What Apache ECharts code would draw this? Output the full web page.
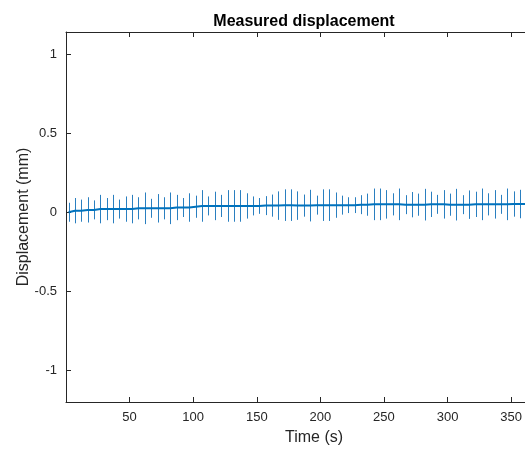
<!DOCTYPE html>
<html>
<head>
<meta charset="utf-8">
<script src="https://cdn.jsdelivr.net/npm/echarts@6/dist/echarts.min.js"></script>
<style>
  html, body { margin: 0; padding: 0; background: #fff; }
  #main { width: 525px; height: 450px; }
</style>
</head>
<body>
<div id="main"></div>
<script>
// sample times (s)
var times = [2, 7, 12, 17, 22, 27, 32, 37, 42, 47, 52, 57, 62, 67, 72, 77, 82, 87, 92, 97,
  102, 107, 112, 117, 122, 127, 132, 137, 142, 147, 152, 157, 162, 167, 172, 177, 182, 187, 192, 197,
  202, 207, 212, 217, 222, 227, 232, 237, 242, 247, 252, 257, 262, 267, 272, 277, 282, 287, 292, 297,
  302, 307, 312, 317, 322, 327, 332, 337, 342, 347, 352, 357, 362, 367, 372, 377, 382, 387];

// mean displacement (mm)
var meanDisp = [0.00, 0.01, 0.01, 0.015, 0.015, 0.02, 0.02, 0.02, 0.02, 0.02, 0.02, 0.025, 0.025, 0.025, 0.025, 0.025, 0.025, 0.03, 0.03, 0.03,
  0.035, 0.04, 0.04, 0.04, 0.04, 0.04, 0.04, 0.04, 0.04, 0.04, 0.04, 0.042, 0.042, 0.042, 0.045, 0.045, 0.042, 0.042, 0.042, 0.045,
  0.045, 0.045, 0.045, 0.045, 0.045, 0.045, 0.048, 0.048, 0.05, 0.05, 0.05, 0.05, 0.05, 0.048, 0.048, 0.048, 0.048, 0.05, 0.05, 0.05,
  0.048, 0.048, 0.048, 0.048, 0.05, 0.05, 0.05, 0.05, 0.05, 0.05, 0.052, 0.052, 0.052, 0.052, 0.052, 0.052, 0.052, 0.052];

// half length of error bars (mm)
var errHalf = [0.06, 0.08, 0.07, 0.08, 0.06, 0.09, 0.07, 0.09, 0.06, 0.08, 0.09, 0.07, 0.1, 0.06, 0.09, 0.07, 0.1, 0.08, 0.06, 0.09,
  0.07, 0.1, 0.06, 0.09, 0.07, 0.1, 0.1, 0.1, 0.08, 0.06, 0.05, 0.06, 0.07, 0.09, 0.1, 0.1, 0.09, 0.07, 0.1, 0.06,
  0.1, 0.1, 0.08, 0.06, 0.05, 0.05, 0.06, 0.07, 0.1, 0.1, 0.09, 0.07, 0.1, 0.06, 0.08, 0.07, 0.1, 0.08, 0.06, 0.09,
  0.07, 0.1, 0.06, 0.09, 0.08, 0.1, 0.07, 0.09, 0.06, 0.1, 0.08, 0.09, 0.07, 0.1, 0.06, 0.09, 0.08, 0.07];

var yTicks = [-1, -0.5, 0, 0.5, 1];

var lineData = times.map(function (t, i) { return [t, meanDisp[i]]; });
var barData = times.map(function (t, i) { return [t, meanDisp[i] - errHalf[i], meanDisp[i] + errHalf[i]]; });

var chart = echarts.init(document.getElementById('main'));
var axisColor = '#262626';
var font = 'Liberation Sans, Arial, Helvetica, sans-serif';

var option = {
  animation: false,
  title: {
    text: 'Measured displacement',
    left: 299, top: 9, textAlign: 'center',
    textStyle: { fontFamily: font, fontSize: 16, fontWeight: 'bold', color: '#000' }
  },
  grid: { left: 66, top: 32, right: -37, bottom: 48, containLabel: false, outerBoundsMode: 'none' },
  xAxis: [{
    type: 'value', min: 0, max: 390, interval: 50,
    name: 'Time (s)', nameLocation: 'middle', nameGap: 28, nameMoveOverlap: false,
    nameTextStyle: { fontFamily: font, fontSize: 16, color: axisColor },
    axisLine: { onZero: false, lineStyle: { color: axisColor } },
    axisTick: { inside: true, length: 5, lineStyle: { color: axisColor } },
    axisLabel: { showMinLabel: false, fontFamily: font, fontSize: 13, color: axisColor, margin: 9 },
    splitLine: { show: false }
  }, {
    type: 'value', position: 'top', min: 0, max: 390, interval: 50,
    axisLine: { onZero: false, lineStyle: { color: axisColor } },
    axisTick: { inside: true, length: 5, lineStyle: { color: axisColor } },
    axisLabel: { show: false },
    splitLine: { show: false }
  }],
  yAxis: [{
    type: 'value', min: -1.2, max: 1.14,
    name: 'Displacement (mm)', nameLocation: 'middle', nameGap: 34, nameMoveOverlap: false,
    nameTextStyle: { fontFamily: font, fontSize: 16, color: axisColor },
    axisLine: { show: true, onZero: false, lineStyle: { color: axisColor } },
    axisTick: { show: true, inside: true, length: 5, customValues: yTicks, lineStyle: { color: axisColor } },
    axisLabel: { customValues: yTicks, fontFamily: font, fontSize: 13, color: axisColor, margin: 9 },
    splitLine: { show: false }
  }],
  series: [{
    type: 'custom',
    xAxisIndex: 0,
    data: barData,
    renderItem: function (params, api) {
      var x = api.value(0);
      var lo = api.coord([x, api.value(1)]);
      var hi = api.coord([x, api.value(2)]);
      // snap to pixel centre so every bar is drawn crisp
      var px = Math.round(lo[0]) + 0.5;
      return {
        type: 'line',
        shape: { x1: px, y1: lo[1], x2: px, y2: hi[1] },
        style: { stroke: '#2a7fc0', lineWidth: 1 }
      };
    },
    clip: true,
    z: 2
  }, {
    type: 'line',
    xAxisIndex: 0,
    data: lineData,
    showSymbol: false,
    lineStyle: { color: '#0072BD', width: 2 },
    clip: true,
    z: 3
  }]
};

chart.setOption(option);
</script>
</body>
</html>
